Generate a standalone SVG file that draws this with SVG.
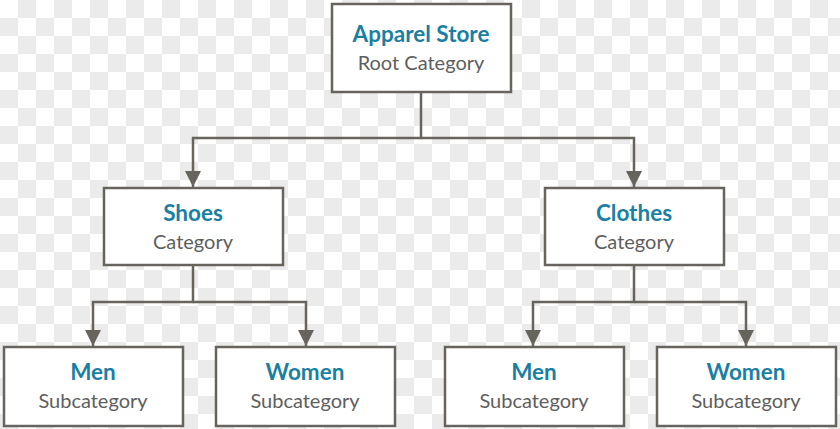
<svg xmlns="http://www.w3.org/2000/svg" width="840" height="429" viewBox="0 0 840 429">
<defs>
<pattern id="checker" x="0" y="0" width="36" height="36" patternUnits="userSpaceOnUse">
<rect width="36" height="36" fill="#ffffff"/>
<rect x="18" y="0" width="18" height="18" fill="#ebebeb"/>
<rect x="0" y="18" width="18" height="18" fill="#ebebeb"/>
</pattern>
<marker id="arrow" markerUnits="userSpaceOnUse" markerWidth="16" markerHeight="16" refX="16" refY="8" orient="auto">
<path d="M0,0 L16,8 L0,16 Z" fill="#67645e"/>
</marker>
<style>
.box{fill:#ffffff;stroke:#67645e;stroke-width:2.5}
.t1{font-family:Lato,"Liberation Sans",sans-serif;font-weight:bold;font-size:22.5px;fill:#1b7fa3;text-anchor:middle}
.t2{font-family:Lato,"Liberation Sans",sans-serif;font-size:20px;fill:#5e5e5e;text-anchor:middle}
.con{fill:none;stroke:#67645e;stroke-width:2.5}
</style>
</defs>
<rect width="840" height="429" fill="url(#checker)"/>
<g id="connectors">
<path class="con" d="M421,92 V138 H193 V187" marker-end="url(#arrow)"/>
<path class="con" d="M421,138 H634 V187" marker-end="url(#arrow)"/>
<path class="con" d="M193,265 V302 H93 V346" marker-end="url(#arrow)"/>
<path class="con" d="M193,302 H306 V346" marker-end="url(#arrow)"/>
<path class="con" d="M634,265 V302 H533 V346" marker-end="url(#arrow)"/>
<path class="con" d="M634,302 H746 V346" marker-end="url(#arrow)"/>
</g>
<g id="root">
<rect class="box" x="332" y="4" width="179" height="88"/>
<text class="t1" x="421" y="42">Apparel Store</text>
<text class="t2" x="421" y="70">Root Category</text>
</g>
<g id="shoes">
<rect class="box" x="104" y="188" width="179" height="77"/>
<text class="t1" x="193" y="221">Shoes</text>
<text class="t2" x="193" y="249">Category</text>
</g>
<g id="clothes">
<rect class="box" x="545" y="188" width="179" height="77"/>
<text class="t1" x="634" y="221">Clothes</text>
<text class="t2" x="634" y="249">Category</text>
</g>
<g id="men1">
<rect class="box" x="4" y="347" width="179" height="79"/>
<text class="t1" x="93" y="380">Men</text>
<text class="t2" x="93" y="408">Subcategory</text>
</g>
<g id="women1">
<rect class="box" x="216" y="347" width="179" height="79"/>
<text class="t1" x="305" y="380">Women</text>
<text class="t2" x="305" y="408">Subcategory</text>
</g>
<g id="men2">
<rect class="box" x="445" y="347" width="179" height="79"/>
<text class="t1" x="534" y="380">Men</text>
<text class="t2" x="534" y="408">Subcategory</text>
</g>
<g id="women2">
<rect class="box" x="657" y="347" width="179" height="79"/>
<text class="t1" x="746" y="380">Women</text>
<text class="t2" x="746" y="408">Subcategory</text>
</g>
</svg>
